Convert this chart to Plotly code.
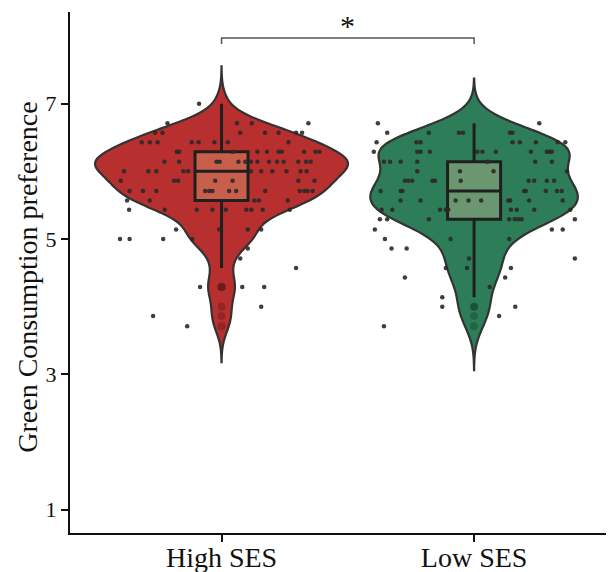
import plotly.graph_objects as go

categories = ["High SES", "Low SES"]
cat_pos = [1, 2]

high_scores = [
    7.00,
    6.71, 6.71, 6.71, 6.71,
    6.57, 6.57, 6.57, 6.57, 6.57, 6.57, 6.57,
    6.43, 6.43, 6.43, 6.43, 6.43, 6.43, 6.43, 6.43,
    6.29, 6.29, 6.29, 6.29, 6.29, 6.29, 6.29, 6.29, 6.29, 6.29,
    6.14, 6.14, 6.14, 6.14, 6.14, 6.14, 6.14, 6.14, 6.14, 6.14, 6.14, 6.14, 6.14, 6.14,
    6.00, 6.00, 6.00, 6.00, 6.00, 6.00, 6.00, 6.00, 6.00, 6.00, 6.00,
    5.86, 5.86, 5.86, 5.86, 5.86, 5.86, 5.86,
    5.71, 5.71, 5.71, 5.71, 5.71, 5.71, 5.71, 5.71, 5.71, 5.71, 5.71, 5.71, 5.71,
    5.57, 5.57, 5.57, 5.57, 5.57,
    5.43, 5.43, 5.43, 5.43, 5.43, 5.43, 5.43, 5.43, 5.43,
    5.14, 5.14, 5.14, 5.14,
    5.00, 5.00, 5.00, 5.00,
    4.86, 4.71, 4.57,
    4.29, 4.29, 4.29,
    4.00, 3.86, 3.71,
]
high_jitter = [
    -0.089,
    -0.214, 0.061, 0.120, 0.344,
    -0.263, -0.234, 0.074, 0.172, 0.226, 0.295, 0.319,
    -0.316, -0.284, -0.253, -0.118, -0.091, -0.028, 0.025, 0.265,
    -0.177, -0.168, 0.044, 0.142, 0.180, 0.226, 0.239, 0.327, 0.372, 0.388,
    -0.226, -0.168, -0.020, -0.007, 0.067, 0.094, 0.116, 0.142, 0.188, 0.220, 0.246, 0.304, 0.335, 0.353,
    -0.386, -0.290, -0.258, -0.151, -0.132, 0.116, 0.157, 0.201, 0.257, 0.313, 0.337,
    -0.399, -0.188, -0.172, -0.025, 0.044, 0.304, 0.368,
    -0.364, -0.311, -0.258, -0.065, -0.049, -0.036, 0.030, 0.058, 0.173, 0.310, 0.328, 0.341, 0.361,
    -0.374, -0.284, 0.130, 0.148, 0.262,
    -0.366, -0.225, -0.098, -0.036, 0.017, 0.098, 0.118, 0.163, 0.270,
    -0.180, -0.009, 0.104, 0.157,
    -0.402, -0.364, -0.231, -0.116,
    0.104, 0.074, 0.295,
    -0.085, 0.082, 0.169,
    0.157, -0.271, -0.136,
]

low_scores = [
    6.71, 6.71,
    6.57, 6.57, 6.57, 6.57, 6.57, 6.57,
    6.43, 6.43, 6.43, 6.43, 6.43, 6.43, 6.43, 6.43,
    6.29, 6.29, 6.29, 6.29, 6.29, 6.29, 6.29, 6.29, 6.29, 6.29, 6.29,
    6.14, 6.14, 6.14, 6.14, 6.14, 6.14, 6.14,
    6.00, 6.00, 6.00, 6.00,
    5.86, 5.86, 5.86, 5.86, 5.86, 5.86, 5.86, 5.86, 5.86, 5.86,
    5.71, 5.71, 5.71, 5.71, 5.71, 5.71, 5.71, 5.71,
    5.57, 5.57, 5.57, 5.57, 5.57, 5.57, 5.57, 5.57, 5.57,
    5.43, 5.43, 5.43, 5.43, 5.43, 5.43, 5.43, 5.43, 5.43,
    5.29, 5.29, 5.29, 5.29, 5.29, 5.29, 5.29, 5.29,
    5.14, 5.14, 5.14,
    5.00, 5.00, 5.00,
    4.86, 4.86,
    4.71, 4.71,
    4.57, 4.57, 4.57,
    4.43, 4.43,
    4.29, 4.14,
    4.00, 4.00, 3.86, 3.71,
]
low_jitter = [
    -0.381, 0.258,
    -0.344, -0.179, -0.060, -0.044, 0.142, 0.152,
    -0.386, -0.228, -0.212, 0.152, 0.181, 0.245, 0.331, 0.361,
    -0.397, -0.225, -0.212, -0.175, 0.013, 0.033, 0.086, 0.225, 0.288, 0.298, 0.308,
    -0.357, -0.333, -0.291, -0.225, 0.053, 0.242, 0.308,
    -0.225, -0.056, 0.077, 0.368,
    -0.274, -0.261, -0.245, -0.165, -0.155, -0.053, 0.216, 0.238, 0.288, 0.317,
    -0.370, -0.291, -0.284, 0.198, 0.205, 0.284, 0.328, 0.347,
    -0.291, -0.212, -0.073, -0.022, 0.028, 0.136, 0.143, 0.218, 0.351,
    -0.366, -0.324, -0.135, -0.112, -0.102, 0.146, 0.169, 0.238, 0.381,
    -0.373, -0.344, -0.179, 0.139, 0.161, 0.175, 0.188, 0.399,
    -0.393, 0.308, 0.351,
    -0.353, -0.093, 0.139,
    -0.327, -0.267,
    -0.020, 0.399,
    -0.112, -0.028, 0.146,
    -0.274, 0.123,
    0.062, -0.126,
    -0.126, 0.163, 0.099, -0.357,
]

# box statistics: q1, median, q3, lower whisker, upper whisker
box_q1 = [5.57, 5.29]
box_median = [6.00, 5.71]
box_q3 = [6.29, 6.14]
box_lower = [4.57, 4.14]
box_upper = [7.00, 6.71]
high_outliers = [4.29, 4.29, 4.29, 4.00, 3.86, 3.71]
low_outliers = [4.00, 4.00, 3.86, 3.71]

y_ticks = [1, 3, 5, 7]
sig_label = "*"

violin_fill = ["#B82F2F", "#2C7D58"]
box_fill = ["#C75F4B", "#6A9770"]
outlier_col = ["rgba(70,20,20,0.32)", "rgba(20,50,35,0.32)"]

FONT = "Liberation Serif"
fig = go.Figure()

groups = [(high_scores, high_jitter, high_outliers, 1.0, 0.185, [3.18, 7.55]),
          (low_scores, low_jitter, low_outliers, 0.82, 0.225, [3.06, 7.37])]

for i, (scores, jit, outl, w, bw, span) in enumerate(groups):
    pos = cat_pos[i]
    fig.add_trace(go.Violin(
        x=[pos] * len(scores), y=scores, width=w, scalemode="width",
        bandwidth=bw, spanmode="manual", span=span,
        fillcolor=violin_fill[i], line=dict(color="#333333", width=2.2),
        points=False, box_visible=False, meanline_visible=False,
        opacity=1, showlegend=False, hoverinfo="skip"))
    fig.add_trace(go.Box(
        x=[pos], q1=[box_q1[i]], median=[box_median[i]], q3=[box_q3[i]],
        lowerfence=[box_lower[i]], upperfence=[box_upper[i]],
        width=0.21, whiskerwidth=0, fillcolor=box_fill[i],
        line=dict(color="#1f1f1f", width=3), boxpoints=False,
        showlegend=False, hoverinfo="skip"))
    fig.add_trace(go.Scatter(
        x=[pos] * len(outl), y=outl, mode="markers",
        marker=dict(size=8, color=outlier_col[i], line=dict(width=0)),
        showlegend=False, hoverinfo="skip"))
    fig.add_trace(go.Scatter(
        x=[pos + j for j in jit], y=scores, mode="markers",
        marker=dict(size=4.5, color="rgba(45,40,40,0.9)", line=dict(width=0)),
        showlegend=False, hoverinfo="skip"))

# significance bracket
fig.add_shape(type="path", xref="x", yref="y",
              path="M 1,7.88 L 1,7.97 L 2,7.97 L 2,7.88",
              line=dict(color="#555555", width=1.5))
fig.add_annotation(x=1.5, y=8.16, xref="x", yref="y", text=sig_label,
                   showarrow=False, font=dict(family=FONT, size=30, color="#111111"))

fig.add_annotation(x=-42 / 544, y=0.49, xref="paper", yref="paper",
                   xanchor="center", yanchor="middle",
                   text="Green Consumption preference", textangle=-90,
                   showarrow=False, font=dict(family=FONT, size=28, color="#111111"))

axis_common = dict(showline=True, linecolor="#111111", linewidth=2,
                   ticks="outside", ticklen=7, tickwidth=2, tickcolor="#111111",
                   showgrid=False, zeroline=False, automargin=False)

# the page body adds an 8px offset, so the figure is 8px smaller than the window
fig.update_layout(
    width=606, height=564,
    margin=dict(l=62, r=0, t=4, b=39),
    paper_bgcolor="white", plot_bgcolor="white",
    violinmode="overlay", boxmode="overlay",
    xaxis=dict(range=[0.4, 2.554], tickvals=cat_pos, ticktext=categories,
               ticklabelstandoff=-9,
               tickfont=dict(family=FONT, size=28, color="#111111"), **axis_common),
    yaxis=dict(range=[0.655, 8.354], tickvals=y_ticks,
               tickfont=dict(family=FONT, size=22, color="#111111"), **axis_common),
)

fig.write_html("out.html")
